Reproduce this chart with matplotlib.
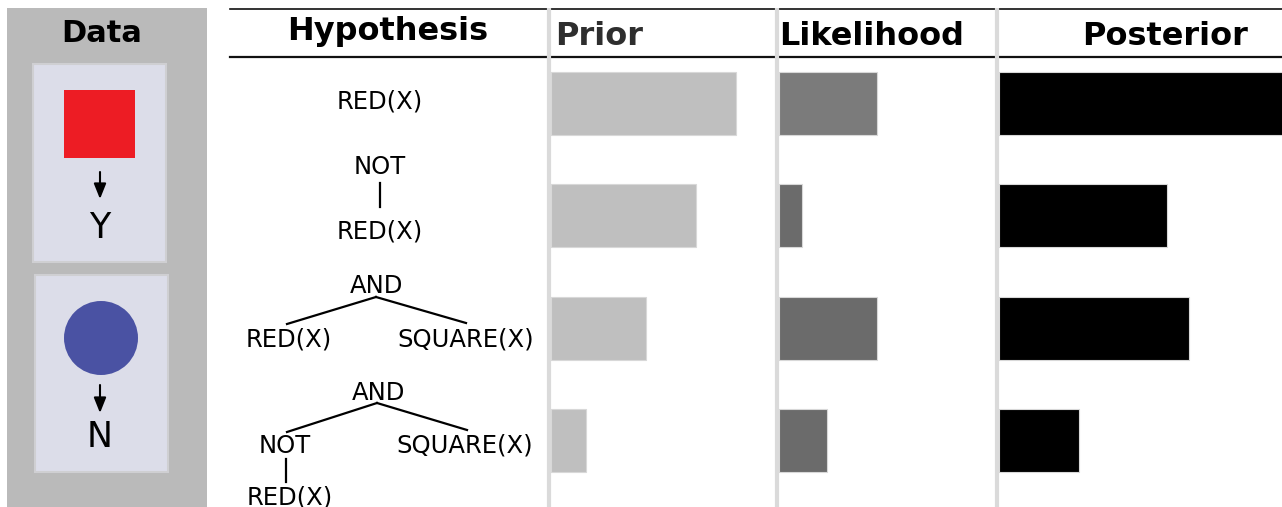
import matplotlib
matplotlib.use("Agg")
import matplotlib.pyplot as plt
from matplotlib.patches import Rectangle, Circle

# ---- data ----
hypotheses = ["RED(X)", "NOT(RED(X))", "AND(RED(X),SQUARE(X))", "AND(NOT(RED(X)),SQUARE(X))"]
prior = [0.74, 0.58, 0.38, 0.14]
likelihood = [0.39, 0.09, 0.39, 0.19]
posterior = [1.20, 0.67, 0.76, 0.32]
likelihood_colors = ["#7b7b7b", "#6b6b6b", "#6b6b6b", "#6b6b6b"]
headers = ["Hypothesis", "Prior", "Likelihood", "Posterior"]
data_labels = ["Y", "N"]

W, H = 1282, 507
fig = plt.figure(figsize=(W / 100, H / 100), dpi=100)
fig.patch.set_facecolor("white")

ax0 = fig.add_axes([0, 0, 1, 1])
ax0.set_xlim(0, W)
ax0.set_ylim(H, 0)
ax0.axis("off")

# ---- Data panel ----
ax0.add_patch(Rectangle((7, 8), 200, 500, facecolor="#bababa", edgecolor="none", zorder=1))
ax0.text(102, 42, "Data", ha="center", va="baseline", fontsize=22, fontweight="bold", color="black", zorder=3)
ax0.add_patch(Rectangle((33, 64), 133, 198, facecolor="#dcdde9", edgecolor="#cfcfd2", lw=1.5, zorder=2))
ax0.add_patch(Rectangle((35, 275), 133, 197, facecolor="#dcdde9", edgecolor="#cfcfd2", lw=1.5, zorder=2))
ax0.add_patch(Rectangle((64, 90), 71, 68, facecolor="#ed1c24", edgecolor="none", zorder=3))
ax0.add_patch(Circle((101, 338), 37, facecolor="#4a52a3", edgecolor="none", zorder=3))
for y0, y1, ty, lab in [(172, 199, 238, data_labels[0]), (385, 413, 447, data_labels[1])]:
    ax0.annotate("", xy=(100, y1), xytext=(100, y0),
                 arrowprops=dict(arrowstyle="-|>,head_length=0.4,head_width=0.16", color="black",
                                 lw=1.5, mutation_scale=23, shrinkA=0, shrinkB=0), zorder=3)
    ax0.text(100, ty, lab, ha="center", va="baseline", fontsize=25, color="black", zorder=3)

# ---- table frame ----
ax0.plot([230, W], [8.5, 8.5], color="#111111", lw=1.2, zorder=2)
ax0.plot([230, W], [57, 57], color="#111111", lw=1.6, zorder=2)
for xs in [548.5, 776.5, 996.5]:
    ax0.plot([xs, xs], [8, H], color="#dadada", lw=3, zorder=3, solid_capstyle="butt")

ax0.text(388, 40, headers[0], ha="center", va="baseline", fontsize=23, fontweight="bold", color="black")
ax0.text(555, 45, headers[1], ha="left", va="baseline", fontsize=23, fontweight="bold", color="#2e2e2e")
ax0.text(779, 45, headers[2], ha="left", va="baseline", fontsize=23, fontweight="bold", color="black")
ax0.text(1165, 45, headers[3], ha="center", va="baseline", fontsize=23, fontweight="bold", color="black")

# ---- hypothesis trees ----
fs = 17.5
def t(x, y, s):
    ax0.text(x, y, s, ha="center", va="baseline", fontsize=fs, color="black")
def ln(x0, y0, x1, y1):
    ax0.plot([x0, x1], [y0, y1], color="black", lw=1.6)

t(380, 109, "RED(X)")
t(380, 174, "NOT"); ln(380, 183, 380, 207); t(380, 239, "RED(X)")
t(376, 293, "AND"); ln(376, 297, 287, 324); ln(376, 297, 466, 323)
t(289, 347, "RED(X)"); t(466, 347, "SQUARE(X)")
t(378, 400, "AND"); ln(377, 403, 287, 432); ln(377, 403, 467, 430)
t(285, 453, "NOT"); t(465, 453, "SQUARE(X)")
ln(286, 459, 286, 482); t(290, 504, "RED(X)")

# ---- bar panels ----
y_top, y_bot = 47, 497
scale = 250.0
def bar_axes(left_px, right_px, values, colors):
    ax = fig.add_axes([left_px / W, (H - y_bot) / H, (right_px - left_px) / W, (y_bot - y_top) / H])
    ax.set_facecolor("none")
    ax.barh(range(len(values)), values, height=0.56, color=colors, edgecolor="#d8d8d8", linewidth=0.8)
    ax.set_xlim(0, (right_px - left_px) / scale)
    ax.set_ylim(len(values) - 0.5, -0.5)
    ax.axis("off")
    return ax

bar_axes(551, 776, prior, "#bfbfbf")
bar_axes(779, 995, likelihood, likelihood_colors)
bar_axes(999, W, posterior, "black")

fig.savefig("out.png", dpi=100)
